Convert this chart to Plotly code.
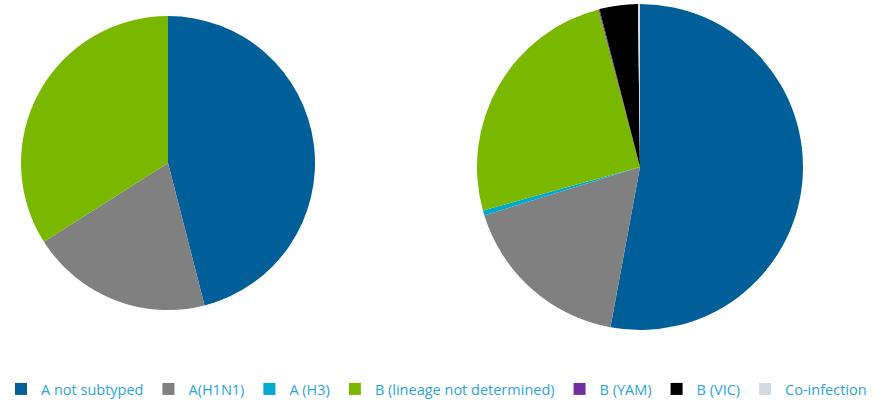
import plotly.graph_objects as go

categories = ["A not subtyped", "A(H1N1)", "A (H3)", "B (lineage not determined)",
              "B (YAM)", "B (VIC)", "Co-infection"]
left_values = [46.0, 20.0, 0.0, 34.0, 0.0, 0.0, 0.0]
right_values = [52.9, 17.3, 0.5, 25.2, 0.1, 3.8, 0.2]
colors = ["#005f99", "#808080", "#00a9ce", "#7ab800", "#7030a0", "#000000", "#d5dbe3"]

W, H = 873, 405

def dom(cx, cy, r):
    return dict(x=[max(0, (cx - r) / W), min(1, (cx + r) / W)],
                y=[max(0, 1 - (cy + r) / H), min(1, 1 - (cy - r) / H)])

fig = go.Figure()
fig.add_trace(go.Pie(labels=categories, values=left_values, sort=False, direction="clockwise",
                     rotation=0, textinfo="none", hoverinfo="label+percent",
                     marker=dict(colors=colors, line=dict(width=0)),
                     domain=dom(168, 163, 147)))
fig.add_trace(go.Pie(labels=categories, values=right_values, sort=False, direction="clockwise",
                     rotation=0, textinfo="none", hoverinfo="label+percent",
                     marker=dict(colors=colors, line=dict(width=0)),
                     domain=dom(640, 167, 163)))

fig.update_layout(
    width=W, height=H,
    margin=dict(l=0, r=0, t=0, b=0),
    paper_bgcolor="white",
    font=dict(family="Open Sans", size=14.5, color="#2aa5e0"),
    legend=dict(orientation="h", x=0.5, xanchor="center", y=0.0, yanchor="bottom",
                font=dict(family="Open Sans", size=14.5, color="#2aa5e0"),
                itemwidth=30, tracegroupgap=0, traceorder="normal"),
)
fig.write_html("out.html", config={"displayModeBar": False},
               post_script="document.body.style.margin='0';")
